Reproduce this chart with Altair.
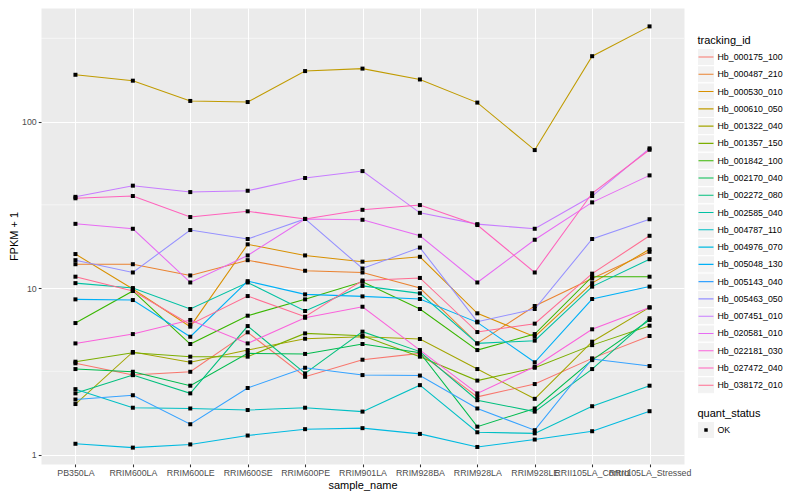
import altair as alt
import pandas as pd

samples = ["PB350LA", "RRIM600LA", "RRIM600LE", "RRIM600SE", "RRIM600PE", "RRIM901LA",
           "RRIM928BA", "RRIM928LA", "RRIM928LE", "RRII105LA_Control", "RRII105LA_Stressed"]

ids = ["Hb_000175_100", "Hb_000487_210", "Hb_000530_010", "Hb_000610_050", "Hb_001322_040",
       "Hb_001357_150", "Hb_001842_100", "Hb_002170_040", "Hb_002272_080", "Hb_002585_040",
       "Hb_004787_110", "Hb_004976_070", "Hb_005048_130", "Hb_005143_040", "Hb_005463_050",
       "Hb_007451_010", "Hb_020581_010", "Hb_022181_030", "Hb_027472_040", "Hb_038172_010"]

colors = ["#F8766D", "#EA8331", "#D89000", "#C09B00", "#A3A500", "#7CAE00", "#39B600", "#00BB4E",
          "#00BF7D", "#00C1A3", "#00BFC4", "#00BAE0", "#00B0F6", "#35A2FF", "#9590FF", "#C77CFF",
          "#E76BF3", "#FA62DB", "#FF62BC", "#FF6C91"]

v_000175 = [3.53, 3.00, 3.14, 5.42, 2.93, 3.71, 4.05, 2.22, 2.65, 3.78, 5.15]
v_000487 = [13.9, 13.9, 11.9, 14.7, 12.7, 12.4, 10.0, 4.65, 7.8, 11.4, 16.5]
v_000530 = [16.0, 9.86, 5.86, 18.3, 15.7, 14.4, 15.4, 7.05, 5.1, 10.7, 17.1]
v_000610 = [191, 176, 133, 131, 201, 208, 179, 130, 67.4, 247, 373]
v_001322 = [2.01, 4.13, 3.58, 4.24, 4.96, 5.10, 4.94, 3.26, 2.16, 4.76, 7.65]
v_001357 = [3.61, 4.09, 3.87, 3.87, 5.34, 5.17, 3.87, 2.78, 3.32, 4.54, 5.94]
v_001842 = [6.16, 9.6, 4.61, 6.82, 8.55, 10.9, 7.48, 4.24, 5.29, 11.7, 11.7]
v_002170 = [3.26, 3.14, 2.59, 4.05, 4.02, 4.61, 4.09, 1.47, 1.89, 3.69, 6.43]
v_002272 = [2.33, 3.00, 2.33, 5.91, 3.07, 5.47, 4.15, 2.12, 1.81, 3.26, 6.58]
v_002585 = [10.7, 10.0, 7.48, 10.8, 7.28, 10.3, 9.29, 4.65, 4.83, 10.2, 14.9]
v_004787 = [2.47, 1.91, 1.89, 1.85, 1.91, 1.81, 2.61, 1.36, 1.34, 1.95, 2.59]
v_004976 = [1.16, 1.10, 1.15, 1.30, 1.42, 1.44, 1.33, 1.11, 1.23, 1.38, 1.82]
v_005048 = [8.55, 8.47, 5.10, 11.0, 9.16, 8.91, 8.59, 6.22, 3.58, 8.59, 10.2]
v_005143 = [2.14, 2.27, 1.52, 2.51, 3.32, 3.00, 2.98, 1.89, 1.40, 3.75, 3.40]
v_005463 = [14.7, 12.4, 22.3, 19.7, 26.0, 13.1, 17.5, 6.28, 7.48, 19.7, 25.9]
v_007451 = [35.3, 41.2, 37.7, 38.4, 45.8, 50.4, 28.3, 24.2, 22.7, 35.7, 69.0]
v_020581 = [24.3, 22.7, 10.8, 15.7, 26.0, 25.7, 20.6, 10.8, 19.5, 32.7, 47.5]
v_022181 = [4.65, 5.29, 6.43, 4.65, 6.63, 7.72, 4.24, 2.33, 3.37, 5.65, 7.65]
v_027472 = [34.6, 35.7, 26.7, 28.9, 26.0, 29.5, 31.5, 23.9, 12.4, 37.1, 67.7]
v_038172 = [11.7, 9.6, 6.05, 8.95, 6.73, 11.1, 11.5, 5.44, 6.11, 12.2, 20.6]

series = [v_000175, v_000487, v_000530, v_000610, v_001322, v_001357, v_001842, v_002170,
          v_002272, v_002585, v_004787, v_004976, v_005048, v_005143, v_005463, v_007451,
          v_020581, v_022181, v_027472, v_038172]

status = ["OK"]
y_ticks = [1, 10, 100]
y_minor = [10 ** 0.5, 10 ** 1.5, 10 ** 2.5]

rows = []
for tid, vals in zip(ids, series):
    for i, (s, v) in enumerate(zip(samples, vals)):
        rows.append({"tracking_id": tid, "sample_name": s, "idx": i,
                     "fpkm1": v, "quant_status": status[0]})
df = pd.DataFrame(rows)
minor_df = pd.DataFrame({"m": y_minor})

FONT = "Liberation Sans"
KEY = "#F2F2F2"

LX = 656.5          # legend x (plot coords)
TOP1 = 26.5         # tracking_id legend top
TOP2 = 399.5        # quant_status legend top
TPAD = 3
TITLE_H = 11

xenc = alt.X("sample_name:N", sort=samples,
             scale=alt.Scale(type="point", padding=0.6),
             axis=alt.Axis(title="sample_name", labelAngle=0, labelOverlap=False,
                           labelPadding=2, titlePadding=2, grid=True))
yscale = alt.Scale(type="log", domain=[0.877, 481], nice=False)
yenc = alt.Y("fpkm1:Q", scale=yscale,
             axis=alt.Axis(title="FPKM + 1", values=y_ticks, format="d",
                           labelPadding=2, titlePadding=2, grid=True))

minor = alt.Chart(minor_df).mark_rule(color="white", strokeWidth=0.55).encode(
    y=alt.Y("m:Q", scale=yscale)
)


def bg_legend(top):
    return alt.Legend(title=None, orient="none", legendX=LX, legendY=top,
                      symbolType="square", symbolSize=225, symbolStrokeWidth=1.1,
                      symbolStrokeColor=KEY, symbolFillColor=KEY, symbolOpacity=1,
                      clipHeight=17, rowPadding=0.28, labelExpr="''", labelOffset=3,
                      zindex=0)


key_bg = alt.Chart(df).mark_square(size=0, color=KEY).transform_calculate(
    bg_id="datum.tracking_id"
).encode(
    x=xenc, y=yenc,
    fill=alt.Fill("bg_id:N", scale=alt.Scale(domain=ids, range=[KEY] * len(ids)),
                  legend=bg_legend(TOP1 + TITLE_H + TPAD)),
)

key_bg2 = alt.Chart(df).mark_square(size=0, color=KEY).transform_calculate(
    bg_qs="datum.quant_status"
).encode(
    x=xenc, y=yenc,
    fill=alt.Fill("bg_qs:N", scale=alt.Scale(domain=status, range=[KEY]),
                  legend=bg_legend(TOP2 + TITLE_H + TPAD)),
)

lines = alt.Chart(df).mark_line(strokeWidth=1.05).encode(
    x=xenc, y=yenc,
    color=alt.Color("tracking_id:N",
                    scale=alt.Scale(domain=ids, range=colors),
                    legend=alt.Legend(title="tracking_id", orient="none",
                                      legendX=LX, legendY=TOP1,
                                      symbolType="stroke", symbolSize=225,
                                      symbolStrokeWidth=1.1, clipHeight=17,
                                      rowPadding=0.28, labelOffset=3,
                                      titlePadding=TPAD, zindex=2)),
    order="idx:Q",
)

points = alt.Chart(df).mark_point(filled=True, size=16, color="black", opacity=1).encode(
    x=xenc, y=yenc,
    shape=alt.Shape("quant_status:N", scale=alt.Scale(domain=status, range=["square"]),
                    legend=alt.Legend(title="quant_status", orient="none",
                                      legendX=LX, legendY=TOP2,
                                      symbolSize=12, symbolFillColor="black",
                                      symbolStrokeColor="transparent",
                                      symbolStrokeWidth=12.6, clipHeight=17,
                                      labelOffset=3, titlePadding=TPAD, zindex=2)),
)

chart = alt.layer(minor, key_bg, key_bg2, lines, points).resolve_scale(
    fill="independent"
).properties(
    width=643, height=456, padding=0
).configure_view(
    fill="#EBEBEB", stroke="transparent"
).configure_axis(
    domain=False, tickColor="#333333", tickSize=2.75, tickWidth=1.07,
    labelColor="#4D4D4D", labelFontSize=8.8, labelFont=FONT,
    titleFont=FONT, titleFontSize=11, titleColor="black", titleFontWeight="normal",
    gridColor="white", gridWidth=1.07,
).configure_legend(
    titleFont=FONT, titleFontSize=11, titleColor="black", titleFontWeight="normal",
    labelFont=FONT, labelFontSize=8.8, labelColor="black",
)

chart.save("out.html", embed_options={"renderer": "svg", "actions": False})
